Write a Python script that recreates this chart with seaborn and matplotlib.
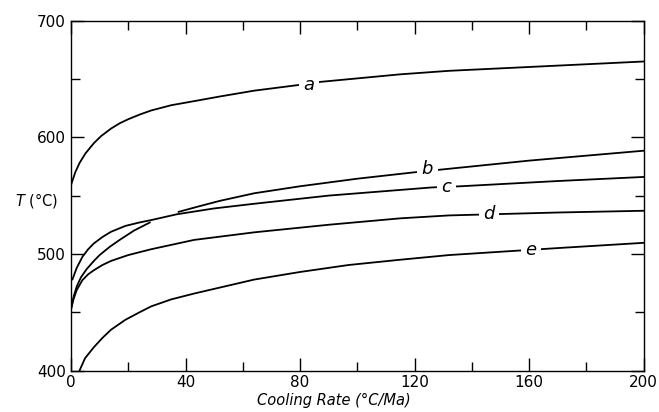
import numpy as np
import pandas as pd
import matplotlib
matplotlib.use("Agg")
import matplotlib.pyplot as plt
import seaborn as sns
from matplotlib.ticker import MultipleLocator

# ---- data ----
a_x = [0, 1.5, 3, 5, 8, 10.5, 14, 17, 20, 24, 28, 35, 43, 52, 64, 80, 87, 115, 132, 200]
a_T = [559, 570, 578, 586, 595, 601, 607.5, 612, 615.5, 619.5, 623, 627.5, 631,
       635, 640, 645, 647.5, 654, 657, 665]

b1_x = [0, 1, 2, 3.5, 5.5, 8, 10, 13.5, 17, 22, 27.6]
b1_T = [453, 464, 472, 480, 487, 494, 499, 506, 512, 520, 527]
b2_x = [37.5, 45, 52, 64, 80, 100, 120, 132, 160, 200]
b2_T = [536, 541, 545.5, 552, 558, 564.5, 570, 573, 580, 588.5]

c_x = [0.5, 2, 4, 6, 8, 11, 14, 19, 24, 28, 37, 50, 64, 90, 126, 136, 170, 200]
c_T = [478, 488, 497.5, 504, 509, 514.5, 519, 524, 527, 529, 534, 539, 543,
       550, 557, 558, 562.5, 566]

d_x = [0, 0.8, 2, 4, 6, 8, 11, 14, 20, 28, 43, 64, 90, 115, 132, 170, 200]
d_T = [452, 460.5, 469, 477.5, 482.5, 486, 490.5, 494, 499, 504, 512, 518.5,
       525, 530.5, 533, 535.5, 537]

e_x = [3, 4.9, 8, 11, 14, 19, 24, 28, 35, 43, 64, 80, 97, 115, 132, 170, 200]
e_T = [400, 410.5, 420, 428, 435, 443.5, 450, 455, 461, 466, 478, 484.5, 490.5,
       495, 499, 505, 509.5]

label_names = ["a", "b", "c", "d", "e"]
label_x = [83, 124.5, 131, 146, 160.5]
label_T = [645, 572.5, 557.5, 534.5, 503.5]

x_ticks = [0, 40, 80, 120, 160, 200]
y_ticks = [400, 500, 600, 700]

segments = [("a", a_x, a_T), ("b1", b1_x, b1_T), ("b2", b2_x, b2_T),
            ("c", c_x, c_T), ("d", d_x, d_T), ("e", e_x, e_T)]
df = pd.concat([pd.DataFrame({"rate": xs, "T": ts, "seg": name})
                for name, xs, ts in segments], ignore_index=True)

# ---- styling ----
sns.set_theme(style="white")
plt.rcParams["font.family"] = ["DejaVu Sans"]

fig = plt.figure(figsize=(6.59, 4.12), dpi=100)
ax = fig.add_axes([0.1077, 0.1007, 0.8691, 0.8491])

sns.lineplot(data=df, x="rate", y="T", units="seg", estimator=None,
             sort=False, color="black", linewidth=1.3, ax=ax, legend=False)

for name, lx, lt in zip(label_names, label_x, label_T):
    ax.text(lx, lt, name, fontsize=13, fontstyle="italic", ha="center",
            va="center", color="black", zorder=5,
            bbox=dict(boxstyle="square,pad=0.25", fc="white", ec="none"))

ax.set_xlim(0, 200)
ax.set_ylim(400, 700)
ax.set_xticks(x_ticks)
ax.set_yticks(y_ticks)
ax.xaxis.set_minor_locator(MultipleLocator(20))
ax.yaxis.set_minor_locator(MultipleLocator(50))
ax.set_xticklabels([str(v) for v in x_ticks])
ax.set_yticklabels([str(v) for v in y_ticks])

ax.tick_params(which="both", direction="in", top=True, right=True,
               bottom=True, left=True, color="black", width=1.0,
               labelsize=11, labelcolor="black")
ax.tick_params(which="major", length=9.5, pad=3.5)
ax.tick_params(which="minor", length=6.2)

for sp in ax.spines.values():
    sp.set_color("black")
    sp.set_linewidth(1.0)

ax.set_xlabel("Cooling Rate (°C/Ma)", fontsize=10.5, fontstyle="italic",
              color="black", va="center")
ax.xaxis.set_label_coords(0.4587, -0.087)
ax.set_ylabel(r"$\it{T}$ (°C)", fontsize=10.5, rotation=0, color="black",
              ha="center", va="center")
ax.yaxis.set_label_coords(-0.060, 0.487)

fig.savefig("out.png", dpi=100, facecolor="white")
